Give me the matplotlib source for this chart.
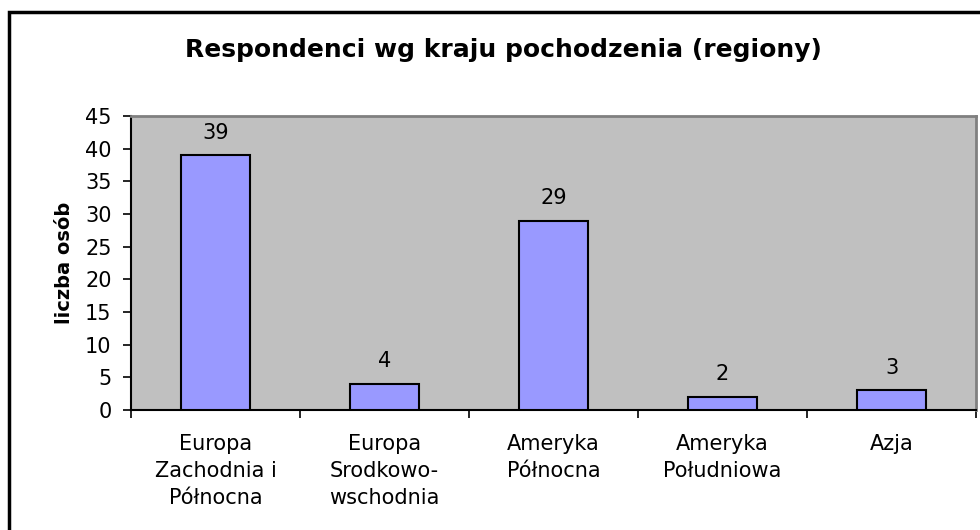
import matplotlib
matplotlib.use("Agg")
import matplotlib.pyplot as plt
from matplotlib.patches import Rectangle
import numpy as np

categories = ["Europa\nZachodnia i\nPółnocna", "Europa\nSrodkowo-\nwschodnia",
              "Ameryka\nPółnocna", "Ameryka\nPołudniowa", "Azja"]
counts = [39, 4, 29, 2, 3]
y_ticks = [0, 5, 10, 15, 20, 25, 30, 35, 40, 45]

TITLE = "Respondenci wg kraju pochodzenia (regiony)"
YLABEL = "liczba osób"

plt.rcParams["font.family"] = ["DejaVu Sans"]

fig = plt.figure(figsize=(9.8, 5.3), dpi=100)
ax = fig.add_axes([131 / 980, 1 - 410 / 530, (976 - 131) / 980, (410 - 116) / 530])

x = np.arange(len(categories))
bars = ax.bar(x, counts, width=0.41, color="#9999FF", edgecolor="black", linewidth=1.5, zorder=3)

for b, v in zip(bars, counts):
    ax.annotate(str(v), (b.get_x() + b.get_width() / 2, v), xytext=(0, 9),
                textcoords="offset points", ha="center", va="bottom", fontsize=15)

ax.set_facecolor("#C0C0C0")
ax.set_xlim(-0.5, len(categories) - 0.5)
ax.set_ylim(0, 45)
ax.set_yticks(y_ticks)
ax.tick_params(axis="y", labelsize=15, length=6, width=1.2, pad=8, direction="out")

# ticks between categories, labels at centres
ax.set_xticks(np.arange(len(categories) + 1) - 0.5)
ax.set_xticklabels([])
ax.tick_params(axis="x", which="major", length=6, width=1.2, direction="out")
ax.set_xticks(x, minor=True)
ax.set_xticklabels(categories, minor=True, fontsize=15, linespacing=1.45)
ax.tick_params(axis="x", which="minor", length=0, pad=17)

for s in ["left", "bottom"]:
    ax.spines[s].set_color("black")
    ax.spines[s].set_linewidth(1.5)
for s in ["top", "right"]:
    ax.spines[s].set_color("#808080")
    ax.spines[s].set_linewidth(2)

ax.set_ylabel(YLABEL, fontsize=14, fontweight="bold", labelpad=8)
fig.text(503 / 980, 1 - 50 / 530, TITLE, ha="center", va="center",
         fontsize=18, fontweight="bold")

fig.patches.append(Rectangle((9 / 980, -0.1), 1.2, 1 - 12 / 530 + 0.1,
                             transform=fig.transFigure, fill=False,
                             edgecolor="black", linewidth=2.5))

fig.savefig("out.png", dpi=100)
